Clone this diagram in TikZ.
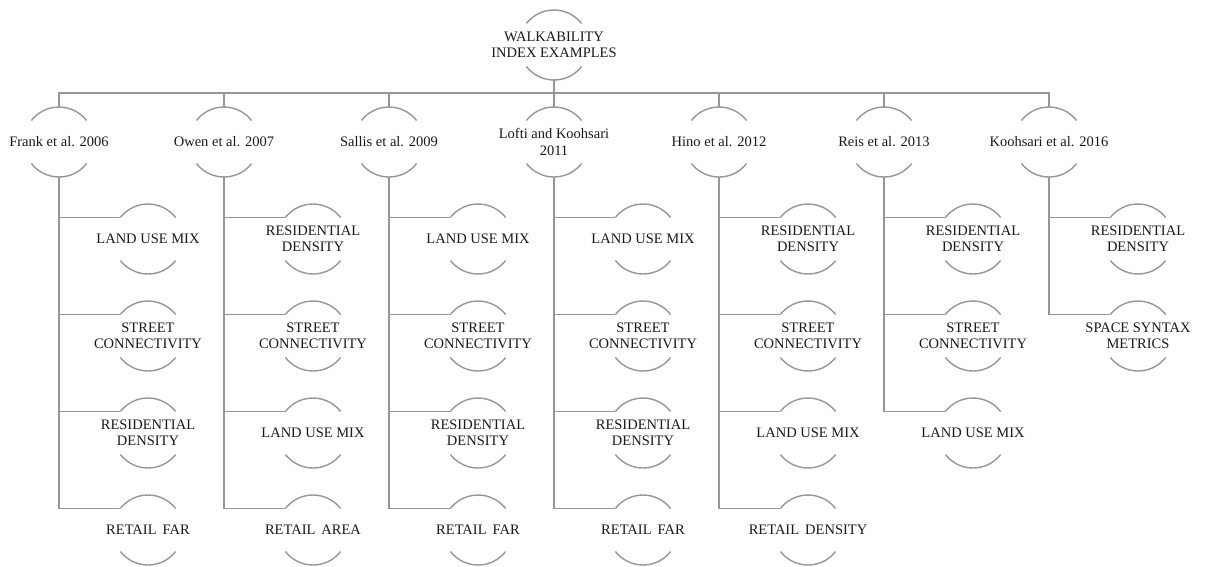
\documentclass[tikz,border=0pt]{standalone}
\usepackage{fontspec}
\setmainfont{Liberation Serif}
\usetikzlibrary{calc}
\definecolor{linegray}{RGB}{150,150,150}
\tikzset{
  lbl/.style={align=center, font=\fontsize{14.5}{16.5}\selectfont, inner sep=0pt, text=black!90},
  conn/.style={draw=linegray, line width=1.4pt},
}
\newcommand{\circarcs}[1]{\draw[conn] ([shift={(38:35)}]#1.center) arc[start angle=38,end angle=142,radius=35] ([shift={(218:35)}]#1.center) arc[start angle=218,end angle=322,radius=35];}
\begin{document}
\begin{tikzpicture}[x=1pt,y=1pt]
\useasboundingbox (0,0) rectangle (1206,-566);
\node[lbl] (root) at (554,-45) {WALKABILITY\\INDEX EXAMPLES};
\circarcs{root}
\foreach \i/\lab in {1/{Frank et al. 2006},2/{Owen et al. 2007},3/{Sallis et al. 2009},4/{Lofti and Koohsari\\2011},5/{Hino et al. 2012},6/{Reis et al. 2013},7/{Koohsari et al. 2016}}{
  \node[lbl] (p\i) at ({59+165*(\i-1)},-142) {\lab};
  \circarcs{p\i}
  \draw[conn] ($(root.center)+(0,-35)$) -- ++(0,-13) -| ($(p\i.center)+(0,35)$);
}
\foreach \i/\j/\lab in {
  1/1/{LAND USE MIX},1/2/{STREET\\CONNECTIVITY},1/3/{RESIDENTIAL\\DENSITY},1/4/{RETAIL\ \,FAR},
  2/1/{RESIDENTIAL\\DENSITY},2/2/{STREET\\CONNECTIVITY},2/3/{LAND USE MIX},2/4/{RETAIL\ \,AREA},
  3/1/{LAND USE MIX},3/2/{STREET\\CONNECTIVITY},3/3/{RESIDENTIAL\\DENSITY},3/4/{RETAIL\ \,FAR},
  4/1/{LAND USE MIX},4/2/{STREET\\CONNECTIVITY},4/3/{RESIDENTIAL\\DENSITY},4/4/{RETAIL\ \,FAR},
  5/1/{RESIDENTIAL\\DENSITY},5/2/{STREET\\CONNECTIVITY},5/3/{LAND USE MIX},5/4/{RETAIL\ \,DENSITY},
  6/1/{RESIDENTIAL\\DENSITY},6/2/{STREET\\CONNECTIVITY},6/3/{LAND USE MIX},
  7/1/{RESIDENTIAL\\DENSITY},7/2/{SPACE SYNTAX\\METRICS}}{
  \node[lbl] (c\i-\j) at ({59+165*(\i-1)+89},{-239-97*(\j-1)}) {\lab};
  \circarcs{c\i-\j}
  \draw[conn] ($(p\i.center)+(0,-35)$) |- ($(c\i-\j.center)+(-27.6,21.5)$);
}
\end{tikzpicture}
\end{document}
